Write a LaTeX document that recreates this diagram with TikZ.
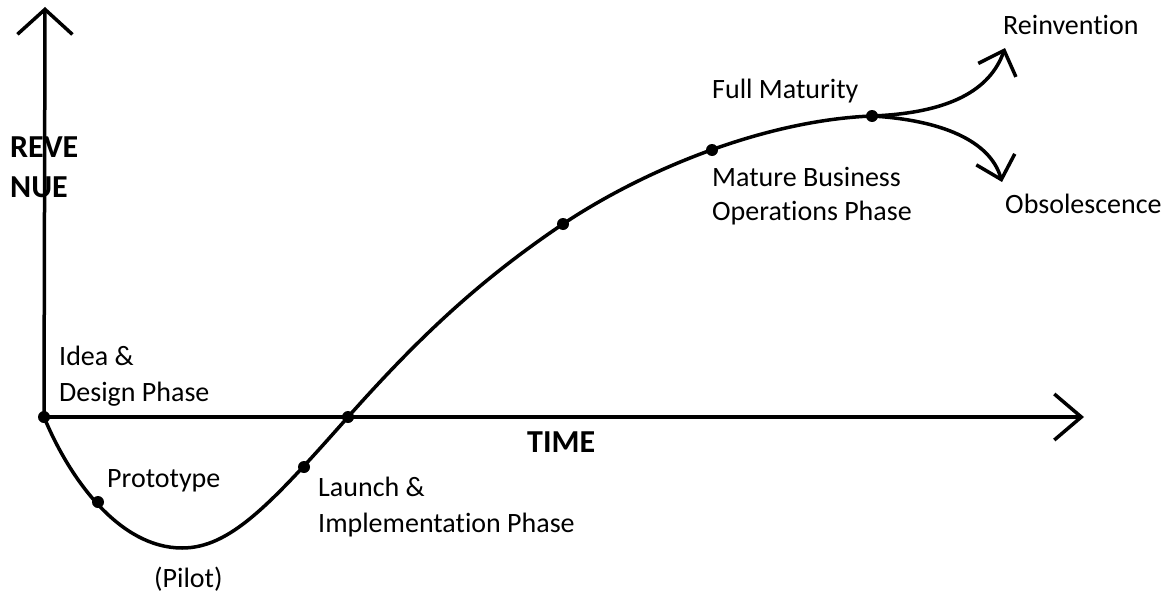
\documentclass[tikz,border=0pt]{standalone}
\usepackage{fontspec}
\setmainfont{Carlito}[Ligatures=NoCommon]
\usetikzlibrary{arrows.meta}
\begin{document}
\begin{tikzpicture}[x=1pt,y=-1pt,
  lbl/.style={anchor=base west,inner sep=0pt,font=\fontsize{28}{36}\selectfont},
  axlbl/.style={anchor=base west,inner sep=0pt,font=\fontsize{32}{40}\selectfont\bfseries},
  dot/.style={circle,fill=black,inner sep=0pt,minimum size=12pt},
  axisline/.style={line width=3.5pt},
  curveline/.style={line width=3.5pt,line cap=round},
  barbv/.style={-{Straight Barb[length=25pt,width=55pt]}},
  barbh/.style={-{Straight Barb[length=27pt,width=46pt]}},
  barbs/.style={-{Straight Barb[length=21pt,width=40pt]}}]
\useasboundingbox (0,0) rectangle (1169,594);
% coordinates
\coordinate (ytip) at (45,7);
\coordinate (xtip) at (1084,417);
\coordinate (rtip) at (1005,48);
\coordinate (otip) at (1002,182);
% axes
\draw[axisline,barbv] (44,417) -- (ytip);
\draw[axisline,barbh] (44,417) -- (xtip);
% dots
\node[dot] (d0) at (44,417) {};
\node[dot] (d1) at (98,502) {};
\coordinate (dmin) at (182,548);
\node[dot] (d2) at (304,467) {};
\node[dot] (d3) at (348,417) {};
\node[dot] (d4) at (563,224) {};
\node[dot] (d5) at (712,150) {};
\node[dot] (d6) at (872,116) {};
% curve
\draw[curveline] (d0.center) .. controls (70,480) and (120,548) .. (dmin)
  .. controls (230,548) and (270,505) .. (d3.center)
  .. controls (420,336) and (480,280) .. (d4.center)
  .. controls (650,166) and (770,120) .. (d6.center);
\draw[curveline,barbs] (d6.center) .. controls (950,113) and (990,90) .. (rtip);
\draw[curveline,barbs] (d6.center) .. controls (940,120) and (990,140) .. (otip);
% labels
\node[axlbl] (rev1) at (10,157) {REVE};
\node[axlbl] (rev2) at (10,197) {NUE};
\node[axlbl] (time) at (527,452) {TIME};
\node[lbl] (idea1) at (59,365) {Idea \&};
\node[lbl] (idea2) at (59,401) {Design Phase};
\node[lbl] (proto) at (107,487) {Prototype};
\node[lbl] (pilot) at (154,587) {(Pilot)};
\node[lbl] (launch1) at (318,496) {Launch \&};
\node[lbl] (launch2) at (318,532) {Implementation Phase};
\node[lbl] (full) at (712,98) {Full Maturity};
\node[lbl] (mat1) at (712,186) {Mature Business};
\node[lbl] (mat2) at (712,220) {Operations Phase};
\node[lbl] (reinv) at (1003,35) {Reinvention};
\node[lbl] (obs) at (1005,213) {Obsolescence};
\end{tikzpicture}
\end{document}
